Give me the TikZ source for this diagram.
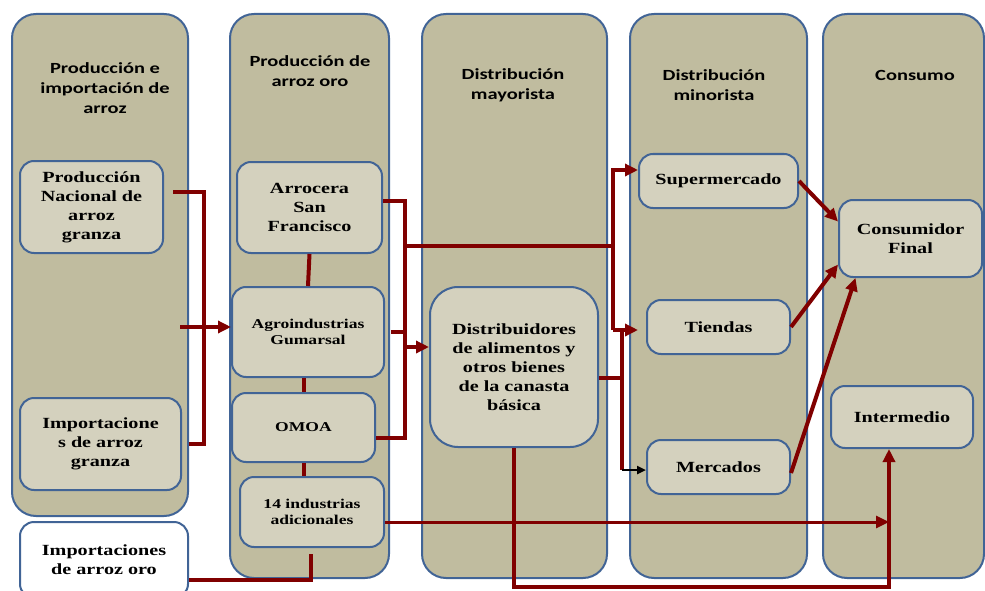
\documentclass[tikz,border=0pt]{standalone}
\usepackage{fontspec}
\newfontfamily\cajafont{Liberation Serif}[FakeStretch=1.3]
\newfontfamily\titulofont{Carlito}[FakeStretch=1.32]
\usepackage{xcolor}
\definecolor{carrilfondo}{HTML}{C0BC9F}
\definecolor{cajafondo}{HTML}{D4D1BE}
\definecolor{borde}{HTML}{416496}
\definecolor{flecha}{HTML}{800000}
\usetikzlibrary{arrows.meta}

\begin{document}
\begin{tikzpicture}[x=1pt, y=-1pt,
    carril/.style={draw=borde, line width=2pt, fill=carrilfondo, rounded corners=24pt},
    titulo/.style={align=center, font=\titulofont\bfseries\fontsize{15.5}{20}\selectfont},
    caja/.style={shape=rectangle, rounded corners=14pt, draw=borde, line width=2pt, fill=cajafondo, align=center, inner sep=0pt, font=\cajafont\bfseries\fontsize{15.5}{19}\selectfont},
    chica/.style={font=\cajafont\bfseries\fontsize{13.5}{16}\selectfont},
    flujo/.style={draw=flecha, line width=4pt},
    punta/.style={-{Triangle[length=13pt,width=12pt]}}]
            \useasboundingbox (0,0) rectangle (985,591);
            \clip (0,0) rectangle (985,591);

            \draw[carril] (12,14) rectangle (188,516);
            \draw[carril] (230,14) rectangle (389,578);
            \draw[carril] (422,14) rectangle (607,578);
            \draw[carril] (630,14) rectangle (807,578);
            \draw[carril] (823,14) rectangle (984,578);

            \node[titulo] (t1) at (105,88) {Producción e\\importación de\\arroz};
            \node[titulo] (t2) at (310,71) {Producción de\\arroz oro};
            \node[titulo] (t3) at (513,85) {Distribución\\mayorista};
            \node[titulo] (t4) at (714,85) {Distribución\\minorista};
            \node[titulo] (t5) at (915,75) {Consumo};

            \node[caja, minimum width=143pt, minimum height=92pt] (prodnac) at (91.5,207) {Producción\\Nacional de\\arroz\\granza};
            \node[caja, minimum width=161pt, minimum height=92pt] (impgranza) at (100.5,444) {Importacione\\s de arroz\\granza};
            \node[caja, fill=white, minimum width=168pt, minimum height=76pt] (imporo) at (104,560) {Importaciones\\de arroz oro};

            \node[caja, minimum width=145pt, minimum height=91pt] (arrocera) at (309.5,207.5) {Arrocera\\San\\Francisco};
            \node[caja, chica, minimum width=152pt, minimum height=90pt] (gumarsal) at (308,332) {Agroindustrias\\Gumarsal};
            \node[caja, chica, minimum width=143pt, minimum height=69pt] (omoa) at (303.5,427.5) {OMOA};
            \node[caja, chica, minimum width=144pt, minimum height=70pt] (industrias) at (312,512) {14 industrias\\adicionales};

            \node[caja, rounded corners=28pt, minimum width=168pt, minimum height=160pt] (distrib) at (514,367) {Distribuidores\\de alimentos y\\otros bienes\\de la canasta\\básica};

            \node[caja, minimum width=159pt, minimum height=54pt] (super) at (718.5,181) {Supermercado};
            \node[caja, minimum width=143pt, minimum height=54pt] (tiendas) at (718.5,327) {Tiendas};
            \node[caja, minimum width=143pt, minimum height=54pt] (mercados) at (718.5,467) {Mercados};

            \node[caja, minimum width=143pt, minimum height=77pt] (consumidor) at (910.5,238.5) {Consumidor\\Final};
            \node[caja, minimum width=142pt, minimum height=62pt] (intermedio) at (902,417) {Intermedio};

            \coordinate (a1) at (173,192);
            \coordinate (a2) at (204,444);
            \coordinate (b1) at (405,438);
            \coordinate (b2) at (405,246);
            \coordinate (c1) at (613,170);
            \coordinate (c2) at (613,330);
            \coordinate (c3) at (622,470);
            \coordinate (d1) at (311,554);
            \coordinate (d2) at (311,580);
            \coordinate (e1) at (889,587);

            \draw[flujo] (a1) -| (a2) -- ([xshift=7pt]impgranza.east);
            \draw[flujo, punta] (180,327) -- ([yshift=5pt]gumarsal.west);

            \draw[flujo] ([yshift=7pt]arrocera.east) -| (b1) -- (b1 -| omoa.east);
            \draw[flujo] ([xshift=6pt]gumarsal.east) -- (gumarsal.east -| b1);
            \draw[flujo, punta] ([yshift=20pt]distrib.west -| b1) -- ([yshift=20pt]distrib.west);
            \draw[flujo] (b2) -- (b2 -| c1);

            \draw[flujo] (arrocera.south) -- (gumarsal.north);
            \draw[flujo] (omoa.north |- gumarsal.south) -- (omoa.north);
            \draw[flujo] (omoa.south) -- (omoa.south |- industrias.north);
            \draw[flujo] (d1) -- (d2) -- (d2 -| imporo.east);

            \draw[flujo, punta] (c2) -- (c1) -- (super.west |- c1);
            \draw[flujo, punta, shorten >=8pt] (c2) -- (tiendas.west |- c2);
            \draw[flujo] (c2 -| c3) -- (c3);
            \draw[flujo] ([yshift=-11pt]distrib.east) -- ([yshift=-11pt]distrib.east -| c3);
            \draw[line width=2.5pt, -{Triangle[length=9pt,width=8pt]}] (c3) -- (mercados.west |- c3);

            \draw[flujo, line width=3pt, punta] ([yshift=-10pt]industrias.east) -- ([yshift=-10pt]industrias.east -| e1);
            \draw[flujo, punta] (distrib.south) |- (e1) -- (intermedio.south -| e1);

            \draw[flujo, punta] (super.east) -- ([yshift=17pt]consumidor.west);
            \draw[flujo, punta] (tiendas.east) -- ([yshift=-26pt]consumidor.west);
            \draw[flujo, punta] ([yshift=-6pt]mercados.east) -- ([xshift=-55pt]consumidor.south);
        \end{tikzpicture}
\end{document}
